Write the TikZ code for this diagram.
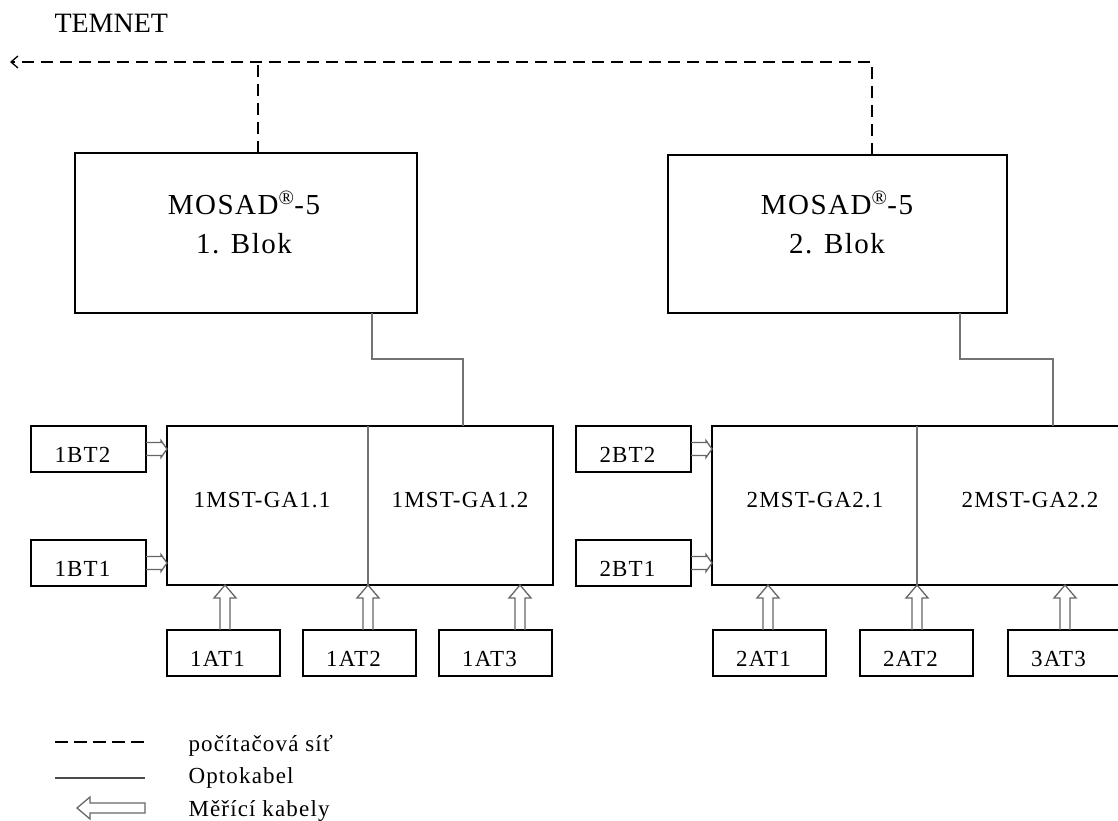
\documentclass[tikz,border=0pt]{standalone}
\usepackage{fontspec}
\setmainfont{Liberation Serif}
\usetikzlibrary{arrows.meta,calc}
\newcommand\rblk[1]{\draw[blk] #1 ++(0,-6.5) -- ++(15,0) -- ++(0,-2) -- ++(6,8.5) -- ++(-6,8.5) -- ++(0,-2) -- ++(-15,0);}
\newcommand\ublk[1]{\draw[blk] #1 ++(-5,0) -- ++(0,-32) -- ++(-6,0) -- ++(11,-13) -- ++(11,13) -- ++(-6,0) -- ++(0,32);}
\begin{document}
\begin{tikzpicture}[x=1pt,y=-1pt,
  frame/.style={draw=black, line width=1.2pt, inner sep=0pt, outer sep=0pt},
  txt/.style={font=\fontsize{23}{27}\selectfont\addfontfeatures{LetterSpace=5}},
  bigtxt/.style={font=\fontsize{29}{34}\selectfont\addfontfeatures{LetterSpace=5}},
  sensor/.style={frame, txt, anchor=north west, minimum height=46pt, text height=26pt, text depth=0pt, execute at end node={\hspace*{12pt}}},
  btbox/.style={sensor, minimum width=115pt},
  atbox/.style={sensor, minimum width=113pt},
  net/.style={draw=black, line width=1.3pt, dash pattern=on 12pt off 7pt},
  opto/.style={draw=black!55, line width=2pt},
  divider/.style={draw=black!55, line width=1.6pt},
  blk/.style={draw=black!60, line width=1.3pt, line join=miter}]
\useasboundingbox (0,0) rectangle (1118,821);
\clip (0,0) rectangle (1118,821);

% upper blocks
\node[frame, anchor=north west, minimum width=342pt, minimum height=160pt] (mosad1) at (75,153) {};
\node[frame, anchor=north west, minimum width=339pt, minimum height=158pt] (mosad2) at (668,155) {};
\node[bigtxt, anchor=base] (m1a) at (244,214) {MOSAD\textsuperscript{®}-5};
\node[bigtxt, anchor=base] (m1b) at (244,253) {1. Blok};
\node[bigtxt, anchor=base] (m2a) at (837,214) {MOSAD\textsuperscript{®}-5};
\node[bigtxt, anchor=base] (m2b) at (837,253) {2. Blok};

% MST units
\node[frame, anchor=north west, minimum width=386pt, minimum height=159pt] (mst1) at (167,426) {};
\node[frame, anchor=north west, minimum width=450pt, minimum height=159pt] (mst2) at (712,426) {};
\draw[divider] (mst1.north -| 368,0) -- (mst1.south -| 368,0);
\draw[divider] (mst2.north -| 917,0) -- (mst2.south -| 917,0);
\node[txt, anchor=base] (t11) at (262,507) {1MST-GA1.1};
\node[txt, anchor=base] (t12) at (460,507) {1MST-GA1.2};
\node[txt, anchor=base] (t21) at (815,507) {2MST-GA2.1};
\node[txt, anchor=base] (t22) at (1030,507) {2MST-GA2.2};

% sensors
\node[btbox] (bt2a) at (31,426) {1BT2};
\node[btbox] (bt1a) at (31,540) {1BT1};
\node[btbox] (bt2b) at (576,426) {2BT2};
\node[btbox] (bt1b) at (576,540) {2BT1};
\node[atbox] (at11) at (167,630) {1AT1};
\node[atbox] (at12) at (303,630) {1AT2};
\node[atbox] (at13) at (439,630) {1AT3};
\node[atbox] (at21) at (713,630) {2AT1};
\node[atbox] (at22) at (860,630) {2AT2};
\node[atbox] (at33) at (1008,630) {3AT3};

% measuring cables
\rblk{(bt2a.east)}
\rblk{(bt1a.east)}
\rblk{(bt2b.east)}
\rblk{(bt1b.east)}
\ublk{(at11.north -| 225,0)}
\ublk{(at12.north -| 368,0)}
\ublk{(at13.north -| 520,0)}
\ublk{(at21.north -| 768,0)}
\ublk{(at22.north -| 917,0)}
\ublk{(at33.north -| 1065,0)}

% optical cables
\draw[opto] (mosad1.south -| 372,0) |- (463,359) -- (mst1.north -| 463,0);
\draw[opto] (mosad2.south -| 960,0) |- (1053,359) -- (mst2.north -| 1053,0);

% network
\coordinate (temnet) at (10,62);
\coordinate (tee) at (258,62);
\node[bigtxt, anchor=base west, font=\fontsize{28}{34}\selectfont] (temnetlabel) at (51,33) {TEMNET};
\draw[net, -{Straight Barb[length=7pt,width=12pt,line width=1.3pt]}] (mosad2.north -| 872,0) |- (temnet);
\draw[net] (mosad1.north -| 258,0) -- (tee);

% legend
\coordinate (la1) at (55,742);
\coordinate (la2) at (145,742);
\coordinate (lb1) at (55,778);
\coordinate (lb2) at (145,778);
\draw[net, dash pattern=on 13pt off 6pt] (la1) -- (la2);
\draw[opto, line width=1.8pt, draw=black!70] (lb1) -- (lb2);
\draw[blk] (145,803) -- (90,803) -- (90,797) -- (77,808) -- (90,819) -- (90,813) -- (145,813) -- cycle;
\node[txt, anchor=base west] (lg1) at (185,751) {počítačová síť};
\node[txt, anchor=base west] (lg2) at (185,783) {Optokabel};
\node[txt, anchor=base west] (lg3) at (185,816) {Měřící kabely};
\end{tikzpicture}
\end{document}
